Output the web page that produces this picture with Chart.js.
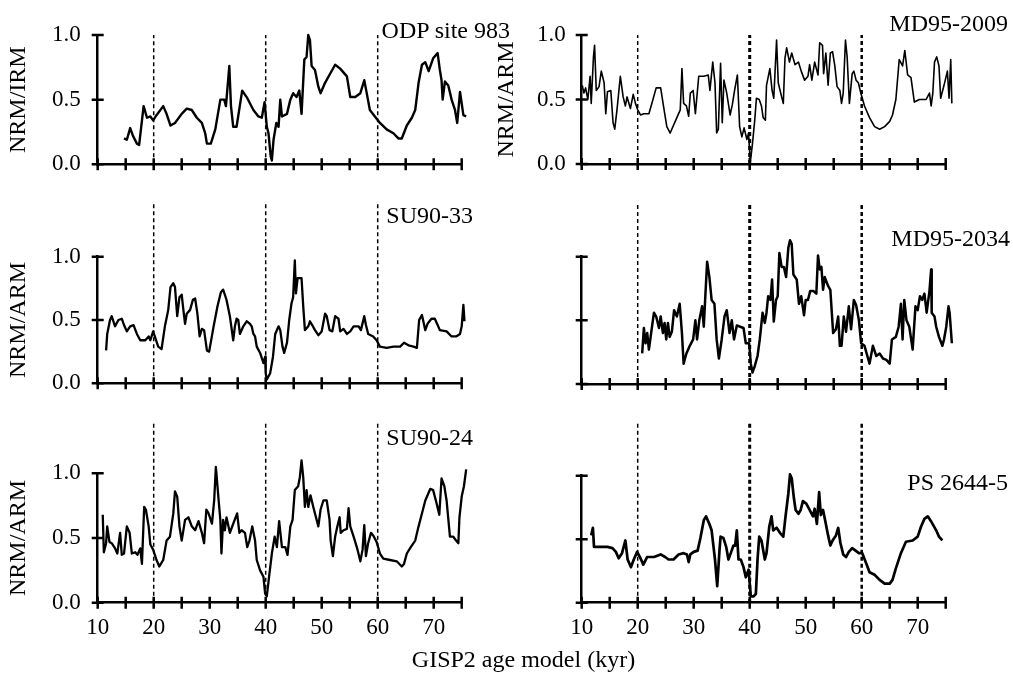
<!DOCTYPE html>
<html>
<head>
<meta charset="utf-8">
<script src="https://cdn.jsdelivr.net/npm/chart.js@4.4.1/dist/chart.umd.min.js"></script>
<style>
  body { margin: 0; background: #fff; }
  #wrap { position: relative; width: 1013px; height: 674px; overflow: hidden; background: #fff; }
  #wrap canvas { position: absolute; left: 0; top: 0; }
  .lbl { position: absolute; font-family: 'Liberation Serif', 'Times New Roman', serif; font-size: 24px;
         line-height: 24px; color: #000; white-space: nowrap; }
</style>
</head>
<body>
<div id="wrap">
  <canvas id="pTL" width="1013" height="674"></canvas>
  <canvas id="pTR" width="1013" height="674"></canvas>
  <canvas id="pML" width="1013" height="674"></canvas>
  <canvas id="pMR" width="1013" height="674"></canvas>
  <canvas id="pBL" width="1013" height="674"></canvas>
  <canvas id="pBR" width="1013" height="674"></canvas>
  <div class="lbl" style="right:503px;top:17.5px">ODP site 983</div>
  <div class="lbl" style="right:5px;top:11px">MD95-2009</div>
  <div class="lbl" style="right:540px;top:203px">SU90-33</div>
  <div class="lbl" style="right:3px;top:225.5px">MD95-2034</div>
  <div class="lbl" style="right:540px;top:424.5px">SU90-24</div>
  <div class="lbl" style="right:5px;top:470px">PS 2644-5</div>
  <div class="lbl" style="left:323.5px;width:400px;text-align:center;top:647px">GISP2 age model (kyr)</div>
</div>
<script>
// event lines (kyr)
const eventAges = [20, 40, 60];

// ODP site 983, NRM/IRM
const odpAge = [14.7,15.2,15.8,16.3,17.0,17.4,18.2,18.8,19.4,19.9,20.5,21.7,22.3,23.0,23.8,25.0,25.9,26.8,27.7,28.6,
  29.2,29.5,30.2,31.0,31.9,32.6,32.9,33.5,33.8,34.2,34.8,35.8,36.6,37.8,38.7,39.3,39.8,40.2,40.5,40.9,
  41.1,41.4,41.9,42.3,42.6,42.9,43.8,44.4,44.9,45.5,46.0,46.4,46.9,47.3,47.6,47.9,48.2,48.8,49.4,49.8,
  50.6,51.5,52.4,53.3,54.5,55.1,56.0,56.9,57.6,58.0,58.6,59.5,60.4,61.6,62.8,63.7,64.3,65.2,66.1,66.7,
  67.3,67.9,68.5,69.1,69.9,70.7,71.1,71.4,71.6,72.0,72.6,73.2,73.8,74.2,74.7,75.3,75.8];
const odpVal = [0.20,0.19,0.28,0.22,0.16,0.15,0.45,0.36,0.37,0.34,0.38,0.45,0.39,0.30,0.32,0.39,0.43,0.42,0.36,0.32,
  0.24,0.16,0.16,0.27,0.50,0.50,0.45,0.76,0.45,0.29,0.29,0.57,0.52,0.42,0.37,0.36,0.48,0.29,0.24,0.06,
  0.03,0.19,0.32,0.29,0.50,0.37,0.39,0.50,0.55,0.52,0.57,0.39,0.81,0.83,1.00,0.96,0.76,0.73,0.60,0.55,
  0.63,0.70,0.77,0.74,0.68,0.52,0.52,0.55,0.65,0.56,0.42,0.37,0.32,0.27,0.24,0.20,0.20,0.30,0.36,0.42,
  0.63,0.77,0.79,0.72,0.82,0.86,0.73,0.65,0.50,0.64,0.61,0.50,0.42,0.32,0.56,0.38,0.37];

// MD95-2009, NRM/ARM
const md09Age = [10.1,10.4,10.7,11.1,11.5,11.7,12.1,12.3,12.6,13.1,13.5,14.0,14.3,14.6,15.2,15.6,15.9,16.3,16.9,17.4,
  17.8,18.1,18.7,19.2,19.6,20.0,20.5,21.1,22.0,22.6,23.3,24.1,24.6,25.2,25.8,26.7,27.6,27.9,28.2,28.7,
  29.1,29.4,29.9,30.3,30.9,31.8,32.6,32.9,33.4,33.8,34.1,34.4,34.8,35.1,35.4,35.9,36.5,36.9,37.3,37.8,
  38.2,38.6,39.0,39.5,39.8,40.1,40.5,40.9,41.2,41.7,42.1,42.4,42.8,43.0,43.6,44.0,44.3,44.8,45.1,45.7,
  46.0,46.3,46.6,47.1,47.5,48.1,48.7,49.2,49.8,50.4,50.7,51.1,51.6,52.2,52.5,53.0,53.2,53.6,54.0,54.4,
  54.8,55.2,55.6,56.1,56.4,56.7,57.1,57.4,57.8,58.3,58.6,59.0,59.4,59.9,60.5,61.4,62.3,63.2,64.1,65.0,
  65.5,66.1,66.7,67.3,67.7,68.2,68.8,69.4,70.3,71.5,72.1,72.4,72.7,73.0,73.4,73.8,74.1,74.7,75.3,75.6,
  75.9,76.1];
const md09Val = [0.61,0.55,0.59,0.50,0.68,0.47,0.83,0.92,0.57,0.60,0.72,0.63,0.39,0.56,0.57,0.32,0.27,0.42,0.68,0.52,
  0.45,0.52,0.43,0.54,0.47,0.42,0.38,0.39,0.39,0.48,0.59,0.59,0.45,0.29,0.24,0.33,0.42,0.74,0.47,0.45,
  0.37,0.55,0.57,0.39,0.68,0.68,0.69,0.57,0.79,0.63,0.24,0.27,0.78,0.32,0.65,0.55,0.38,0.46,0.57,0.69,
  0.29,0.21,0.28,0.19,0.24,0.01,0.16,0.34,0.51,0.50,0.45,0.36,0.34,0.61,0.74,0.57,0.51,0.96,0.63,0.52,
  0.47,0.82,0.90,0.79,0.86,0.77,0.79,0.72,0.65,0.68,0.77,0.65,0.79,0.69,0.94,0.92,0.70,0.86,0.61,0.86,
  0.87,0.76,0.60,0.57,0.47,0.55,0.96,0.83,0.47,0.70,0.72,0.65,0.63,0.54,0.45,0.36,0.29,0.27,0.29,0.33,
  0.38,0.50,0.81,0.76,0.88,0.69,0.67,0.48,0.50,0.50,0.55,0.45,0.55,0.79,0.83,0.76,0.51,0.61,0.72,0.51,
  0.81,0.47];

// SU90-33, NRM/ARM
const su33Age = [11.5,11.7,12.2,12.5,13.1,13.7,14.3,14.7,15.2,15.8,16.4,17.0,17.6,18.5,19.1,19.4,19.9,20.2,20.8,21.4,
  22.0,22.6,23.0,23.5,23.8,24.2,24.6,25.0,25.3,25.6,25.9,26.5,27.0,27.4,27.8,28.2,28.6,29.0,29.5,29.9,
  30.7,31.4,32.0,32.4,33.0,33.6,34.2,34.5,34.8,35.1,35.4,36.0,36.6,37.2,37.5,37.8,38.1,38.4,39.0,39.6,
  39.9,40.0,40.2,40.8,41.3,41.7,42.3,42.6,43.0,43.3,43.8,44.2,44.6,44.9,45.2,45.4,45.7,46.4,46.7,47.0,
  47.6,47.9,48.3,48.8,49.4,50.0,50.6,50.9,51.4,51.9,52.4,53.0,53.3,53.9,54.5,55.1,55.7,56.6,57.0,57.6,
  57.9,58.3,59.2,59.8,60.4,61.6,62.8,64.0,64.7,65.5,66.4,67.0,67.4,67.9,68.5,68.9,69.6,70.2,70.7,71.1,
  72.3,73.2,74.0,74.7,75.0,75.3,75.5];
const su33Val = [0.26,0.39,0.50,0.53,0.45,0.50,0.51,0.46,0.41,0.45,0.46,0.39,0.34,0.34,0.37,0.34,0.41,0.37,0.29,0.27,
  0.45,0.58,0.76,0.79,0.76,0.53,0.68,0.70,0.58,0.47,0.55,0.58,0.66,0.67,0.55,0.37,0.43,0.42,0.26,0.25,
  0.45,0.61,0.72,0.74,0.66,0.53,0.34,0.45,0.51,0.50,0.39,0.45,0.49,0.47,0.45,0.39,0.37,0.29,0.24,0.16,
  0.21,0.08,0.03,0.08,0.21,0.39,0.45,0.42,0.29,0.24,0.32,0.50,0.63,0.68,0.97,0.71,0.83,0.83,0.61,0.42,
  0.45,0.49,0.46,0.42,0.38,0.41,0.55,0.53,0.42,0.41,0.53,0.51,0.41,0.43,0.39,0.41,0.45,0.45,0.42,0.53,
  0.46,0.39,0.37,0.34,0.29,0.28,0.29,0.29,0.32,0.30,0.29,0.28,0.50,0.54,0.42,0.47,0.51,0.51,0.46,0.42,
  0.41,0.37,0.37,0.39,0.45,0.62,0.49];

// MD95-2034, NRM/ARM
const md34Age = [20.8,21.1,21.4,21.7,22.0,22.4,22.9,23.3,23.8,24.1,24.5,24.8,25.1,25.4,25.7,26.1,26.5,27.0,27.5,27.9,
  28.2,28.7,29.3,29.9,30.3,30.6,31.0,31.5,31.8,32.1,32.4,32.8,33.2,33.7,34.1,34.5,35.0,35.5,35.9,36.4,
  36.8,37.2,37.7,38.3,38.9,39.3,39.9,40.2,40.5,40.9,41.4,41.8,42.3,42.7,43.0,43.3,43.7,44.0,44.3,44.7,
  45.0,45.3,45.7,46.1,46.5,46.9,47.2,47.5,47.8,48.4,48.8,49.2,49.7,50.0,50.4,50.8,51.4,51.9,52.2,52.5,
  52.8,53.1,53.4,54.0,54.4,54.9,55.4,55.8,56.1,56.4,56.8,57.2,57.7,58.1,58.6,59.0,59.5,59.9,60.5,61.4,
  62.0,62.6,63.2,63.8,64.4,65.0,65.4,66.1,66.6,67.0,67.3,67.6,68.0,68.5,69.1,69.6,70.0,70.4,70.8,71.2,
  71.6,72.1,72.4,72.5,73.0,73.3,73.8,74.4,74.7,75.1,75.5,75.7,76.1];
const md34Val = [0.24,0.44,0.32,0.40,0.27,0.40,0.56,0.53,0.44,0.53,0.40,0.48,0.35,0.48,0.37,0.41,0.58,0.53,0.63,0.40,
  0.16,0.24,0.30,0.35,0.50,0.35,0.50,0.61,0.45,0.71,0.96,0.84,0.66,0.63,0.35,0.20,0.35,0.53,0.58,0.40,
  0.50,0.35,0.46,0.45,0.44,0.32,0.32,0.16,0.09,0.14,0.22,0.35,0.56,0.48,0.56,0.69,0.66,0.82,0.49,0.66,
  0.69,1.03,0.92,0.92,0.84,1.07,1.13,1.10,0.86,0.82,0.63,0.69,0.54,0.66,0.66,0.73,0.73,0.71,1.01,0.90,
  0.92,0.74,0.84,0.77,0.74,0.40,0.43,0.53,0.30,0.30,0.53,0.41,0.61,0.43,0.66,0.62,0.50,0.32,0.30,0.16,
  0.30,0.22,0.24,0.20,0.19,0.16,0.35,0.37,0.45,0.63,0.35,0.66,0.50,0.45,0.27,0.61,0.58,0.69,0.66,0.71,
  0.56,0.73,0.90,0.56,0.53,0.45,0.37,0.30,0.35,0.45,0.61,0.56,0.32];

// SU90-24, NRM/ARM
const su24Age = [10.9,11.1,11.5,11.7,12.1,12.5,13.1,13.5,14.0,14.3,14.7,15.2,15.7,16.1,16.7,17.1,17.6,17.9,18.3,18.6,
  19.1,19.4,19.9,20.5,21.0,21.7,22.3,22.9,23.5,23.8,24.2,24.6,25.0,25.6,26.2,26.8,27.4,28.0,28.6,29.0,
  29.4,29.8,30.4,30.8,31.1,31.6,31.9,32.1,32.4,32.7,33.0,33.6,34.2,34.9,35.3,35.7,36.3,36.7,37.1,37.6,
  38.1,38.4,39.0,39.6,39.9,40.2,40.6,41.1,41.6,42.0,42.4,42.9,43.5,43.9,44.4,44.8,45.2,45.8,46.1,46.4,
  46.7,47.0,47.3,47.6,48.0,48.5,48.8,49.4,49.8,50.3,50.9,51.4,51.6,52.0,52.4,52.8,53.2,53.4,53.9,54.5,
  54.8,55.1,55.7,56.4,56.9,57.3,57.6,57.9,58.3,58.8,59.2,59.8,60.4,61.0,62.2,63.4,64.3,64.7,65.2,65.9,
  66.7,67.3,67.9,68.5,69.4,69.9,70.5,71.0,71.4,71.9,72.3,72.9,73.5,74.0,74.4,74.6,75.0,75.4,75.8];
const su24Val = [0.68,0.39,0.46,0.59,0.47,0.46,0.42,0.38,0.54,0.37,0.38,0.59,0.54,0.38,0.39,0.37,0.42,0.30,0.74,0.72,
  0.59,0.45,0.41,0.33,0.28,0.33,0.48,0.51,0.69,0.86,0.82,0.59,0.48,0.64,0.66,0.59,0.56,0.63,0.54,0.46,
  0.72,0.69,0.61,0.79,1.05,0.79,0.64,0.38,0.64,0.56,0.66,0.54,0.61,0.69,0.54,0.56,0.54,0.43,0.48,0.59,
  0.48,0.33,0.25,0.20,0.07,0.05,0.20,0.38,0.51,0.43,0.63,0.43,0.43,0.37,0.59,0.64,0.87,0.90,0.97,1.10,
  0.97,0.74,0.87,0.74,0.83,0.74,0.69,0.59,0.72,0.79,0.79,0.64,0.48,0.36,0.51,0.59,0.66,0.54,0.56,0.57,
  0.73,0.59,0.51,0.41,0.32,0.41,0.60,0.36,0.46,0.54,0.52,0.47,0.38,0.34,0.33,0.32,0.28,0.30,0.38,0.43,
  0.48,0.59,0.69,0.79,0.88,0.87,0.77,0.68,0.96,0.90,0.79,0.51,0.51,0.48,0.46,0.66,0.82,0.90,1.03];

// PS 2644-5, NRM/ARM
const psAge = [11.7,12.0,12.2,12.8,13.7,14.6,15.5,16.1,16.6,17.2,17.8,18.2,18.8,19.3,19.9,20.5,21.0,21.7,22.9,24.1,
  24.9,25.5,26.4,27.3,28.2,28.8,29.1,29.4,30.0,30.7,31.2,31.8,32.2,32.8,33.2,33.8,34.2,34.6,34.8,35.3,
  35.8,36.2,36.7,37.1,37.4,37.7,38.0,38.4,38.9,39.3,39.8,40.2,40.7,41.1,41.4,41.7,42.1,42.7,43.0,43.5,
  43.9,44.2,44.8,45.4,46.0,46.4,46.9,47.2,47.5,47.9,48.2,48.7,49.1,49.5,50.1,50.7,51.3,51.6,52.0,52.4,
  52.7,53.1,53.6,54.0,54.4,54.8,55.4,55.8,56.2,56.7,57.2,57.7,58.3,58.9,59.5,60.1,60.8,61.4,62.3,63.2,
  64.1,65.0,65.5,66.1,67.0,67.9,69.1,70.0,70.6,71.2,71.8,72.4,73.3,73.8,74.4];
const psVal = [0.53,0.59,0.44,0.44,0.44,0.44,0.43,0.40,0.35,0.39,0.49,0.34,0.28,0.34,0.40,0.35,0.30,0.36,0.36,0.38,
  0.36,0.34,0.34,0.38,0.39,0.38,0.32,0.38,0.40,0.41,0.51,0.65,0.68,0.62,0.57,0.34,0.13,0.41,0.52,0.51,
  0.44,0.34,0.40,0.45,0.45,0.57,0.34,0.34,0.28,0.20,0.26,0.05,0.05,0.07,0.34,0.52,0.49,0.34,0.39,0.60,
  0.68,0.57,0.59,0.55,0.52,0.68,0.86,1.01,0.98,0.82,0.73,0.70,0.73,0.80,0.78,0.73,0.68,0.74,0.62,0.87,
  0.69,0.73,0.62,0.53,0.45,0.49,0.53,0.59,0.47,0.38,0.36,0.40,0.43,0.41,0.39,0.39,0.31,0.24,0.22,0.18,
  0.15,0.15,0.18,0.27,0.39,0.48,0.49,0.52,0.60,0.66,0.68,0.64,0.57,0.52,0.49];

const xMin = 10, xMax = 75, xTicksStep = 5;
const yMin = 0, yMax = 1, yTicksStep = 0.5;

Chart.defaults.font.family = "'Liberation Serif', 'Times New Roman', serif";
Chart.defaults.color = '#000';

// ticks crossing both sides of the axis line
const crossTicks = {
  id: 'crossTicks',
  afterDraw(chart) {
    const { ctx, scales: { x, y } } = chart;
    ctx.save();
    ctx.strokeStyle = '#000';
    ctx.lineWidth = 2.5;
    ctx.beginPath();
    x.ticks.forEach(t => {
      const px = x.getPixelForValue(t.value);
      ctx.moveTo(px, y.bottom - 6);
      ctx.lineTo(px, y.bottom + 6);
    });
    y.ticks.forEach(t => {
      const py = y.getPixelForValue(t.value);
      ctx.moveTo(x.left - 6, py);
      ctx.lineTo(x.left + 6, py);
    });
    ctx.stroke();
    ctx.restore();
  }
};

function toPoints(ages, vals) {
  return ages.map((a, i) => ({ x: a, y: vals[i] }));
}

function makePanel(id, p) {
  const W = 1013, H = 674, xH = 40;
  const dashSets = eventAges.map((a, i) => ({
    data: [{ x: a, y: 0 }, { x: a, y: p.dashTop }],
    borderColor: '#000',
    borderWidth: p.dashWidths[i],
    borderDash: [4, 3],
    pointRadius: 0,
    clip: false
  }));
  new Chart(document.getElementById(id), {
    type: 'line',
    data: {
      datasets: [{
        data: toPoints(p.ages, p.vals),
        borderColor: '#000',
        borderWidth: p.lw,
        borderJoinStyle: 'round',
        pointRadius: 0,
        tension: 0,
        clip: false
      }].concat(dashSets)
    },
    options: {
      responsive: false,
      devicePixelRatio: 1,
      animation: false,
      events: [],
      layout: {
        padding: { left: p.L - p.yW, right: W - p.R, top: p.T, bottom: H - p.B - xH }
      },
      plugins: { legend: { display: false }, tooltip: { enabled: false } },
      scales: {
        x: {
          type: 'linear',
          // range set here (not via min/max) so points past 75 kyr are still drawn
          afterDataLimits: s => { s.min = xMin; s.max = xMax; },
          afterFit: s => { s.height = xH; },
          grid: { display: false, drawTicks: false, tickLength: 0 },
          border: { display: true, color: '#000', width: 2.5 },
          ticks: {
            display: p.xLabels, stepSize: xTicksStep, autoSkip: false, maxRotation: 0,
            padding: 11, font: { size: 23 },
            callback: v => (v % 10 === 0 ? String(v) : '')
          }
        },
        y: {
          type: 'linear', min: yMin, max: yMax,
          afterFit: s => { s.width = p.yW; },
          grid: { display: false, drawTicks: false, tickLength: 0 },
          border: { display: true, color: '#000', width: 2.5 },
          ticks: {
            display: p.yLabels, stepSize: yTicksStep, autoSkip: false,
            padding: p.yPad, font: { size: 23 },
            callback: v => v.toFixed(1)
          },
          title: {
            display: !!p.yTitle, text: p.yTitle || '',
            font: { size: 24 }, padding: { top: 4, bottom: 0 }
          }
        }
      }
    },
    plugins: [crossTicks]
  });
}

const leftCol = { L: 97.7, R: 461.7, yW: 97.7, yPad: 17, dashWidths: [1.5, 1.5, 1.5] };
const rightCol = { L: 581.7, R: 945.7, yW: 93.6, yPad: 16, dashWidths: [1.5, 3, 2.5] };

makePanel('pTL', Object.assign({}, leftCol, { T: 35, B: 164.3, ages: odpAge, vals: odpVal, lw: 2.4,
  yTitle: 'NRM/IRM', yLabels: true, xLabels: false, dashTop: 1.0 }));
makePanel('pTR', Object.assign({}, rightCol, { T: 35, B: 164, ages: md09Age, vals: md09Val, lw: 1.6,
  yTitle: 'NRM/ARM', yLabels: true, xLabels: false, dashTop: 1.0 }));
makePanel('pML', Object.assign({}, leftCol, { T: 256.7, B: 383.3, ages: su33Age, vals: su33Val, lw: 2.3,
  yTitle: 'NRM/ARM', yLabels: true, xLabels: false, dashTop: 1.42 }));
makePanel('pMR', Object.assign({}, rightCol, { T: 256.7, B: 384, ages: md34Age, vals: md34Val, lw: 2.5,
  yTitle: '', yLabels: false, xLabels: false, dashTop: 1.42 }));
makePanel('pBL', Object.assign({}, leftCol, { T: 473.3, B: 602.7, ages: su24Age, vals: su24Val, lw: 2.3,
  yTitle: 'NRM/ARM', yLabels: true, xLabels: true, dashTop: 1.39 }));
makePanel('pBR', Object.assign({}, rightCol, { T: 475.7, B: 602.7, ages: psAge, vals: psVal, lw: 2.7,
  yTitle: '', yLabels: false, xLabels: true, dashTop: 1.42 }));
</script>
</body>
</html>
